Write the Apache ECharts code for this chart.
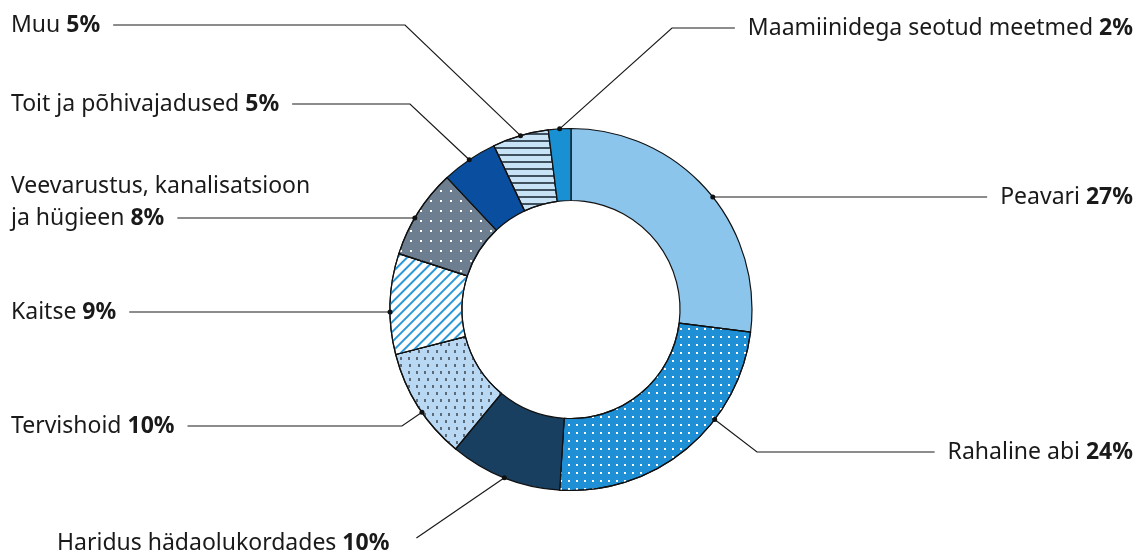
<!DOCTYPE html>
<html>
<head>
<meta charset="utf-8">
<script src="https://cdn.jsdelivr.net/npm/echarts@6/dist/echarts.min.js"></script>
<style>
html,body{margin:0;padding:0;background:#ffffff;}
#chart{width:1139px;height:554px;}
</style>
</head>
<body>
<div id="chart"></div>
<script>
// ---- data ----
const categories = [
  'Peavari',
  'Rahaline abi',
  'Haridus hädaolukordades',
  'Tervishoid',
  'Kaitse',
  'Veevarustus, kanalisatsioon\nja hügieen',
  'Toit ja põhivajadused',
  'Muu',
  'Maamiinidega seotud meetmed'
];
const values = [27, 24, 10, 10, 9, 8, 5, 5, 2];

// ---- styles ----
const sliceStyles = [
  { color: '#8cc5ec' },
  { color: '#1f90d6', decal: { symbol: 'rect', color: '#ffffff', dashArrayX: [2, 5.3], dashArrayY: [2, 5.3], symbolSize: 1 } },
  { color: '#183e60' },
  { color: '#b8d8f3', decal: { symbol: 'rect', color: '#5d6a78', symbolKeepAspect: false, symbolSize: 1, dashArrayX: [[1.2, 5.8], [0, 3.5, 1.2, 2.3]], dashArrayY: [3, 4] } },
  { color: '#ffffff', decal: { symbol: 'rect', color: '#2b99d8', dashArrayX: [1, 0], dashArrayY: [1.6, 4.4], rotation: -Math.PI / 4 } },
  { color: '#6c7e8f', decal: { symbol: 'rect', color: '#ffffff', dashArrayX: [1.8, 7.6], dashArrayY: [1.8, 7.6], symbolSize: 1 } },
  { color: '#0a4f9f' },
  { color: '#c8e3f5', decal: { symbol: 'rect', color: '#3f515e', dashArrayX: [1, 0], dashArrayY: [1.7, 5] } },
  { color: '#1990d2' }
];

// ---- layout ----
const CENTER = [571, 309.5];
const R_IN = 109, R_OUT = 181;
const FONT = 'Noto Sans';
const FONT_SIZE = 23;
const LINE_H = 32;
const GAP = 13;
const labelPos = [
  { side: 'right', y: 197, anchor: 'level' },
  { side: 'right', y: 452, bendX: 757, anchor: 'toward' },
  { side: 'left', x: 57, y: 543, lineY: 538, anchor: 'mid', direct: true, gap: 27 },
  { side: 'left', y: 426, bendX: 402, anchor: 'toward' },
  { side: 'left', y: 312, anchor: 'level' },
  { side: 'left', y: 202, lineY: 218, anchor: 'level' },
  { side: 'left', y: 104, bendX: 410, anchor: 'mid' },
  { side: 'left', y: 25, bendX: 405, anchor: 'mid' },
  { side: 'right', y: 28, bendX: 672, anchor: 'mid' }
];

const measureCtx = document.createElement('canvas').getContext('2d');
function lastLineWidth(i) {
  const lines = categories[i].split('\n');
  measureCtx.font = 'normal ' + FONT_SIZE + 'px "' + FONT + '"';
  const w1 = measureCtx.measureText(lines[lines.length - 1] + ' ').width;
  measureCtx.font = 'bold ' + FONT_SIZE + 'px "' + FONT + '"';
  const w2 = measureCtx.measureText(values[i] + '%').width;
  return w1 + w2;
}

function lineYOf(cfg) { return cfg.lineY != null ? cfg.lineY : cfg.y; }
function anchorOf(i, mid) {
  const cfg = labelPos[i];
  if (cfg.anchor === 'level') {
    const ly = lineYOf(cfg);
    const dy = ly - CENTER[1];
    const dx = Math.sqrt(Math.max(0, R_OUT * R_OUT - dy * dy));
    return [CENTER[0] + (cfg.side === 'right' ? dx : -dx), ly];
  }
  if (cfg.anchor === 'toward') {
    const bx = cfg.bendX - CENTER[0], by = lineYOf(cfg) - CENTER[1];
    const L = Math.hypot(bx, by);
    return [CENTER[0] + bx / L * R_OUT, CENTER[1] + by / L * R_OUT];
  }
  return [mid[0], mid[1]];
}

const pieData = categories.map((name, i) => ({
  name: name,
  value: values[i],
  itemStyle: Object.assign({ borderColor: '#111111', borderWidth: 1.2 }, sliceStyles[i])
}));
const dotData = categories.map((name, i) => ({ name: name, value: values[i] }));

const chart = echarts.init(document.getElementById('chart'), null, { renderer: 'canvas' });
chart.setOption({
  backgroundColor: '#ffffff',
  animation: false,
  series: [
    {
      type: 'pie',
      center: CENTER,
      radius: [R_IN, R_OUT],
      startAngle: 90,
      clockwise: true,
      avoidLabelOverlap: false,
      silent: true,
      emphasis: { disabled: true },
      data: pieData,
      label: {
        show: true,
        position: 'outside',
        fontFamily: FONT,
        fontSize: FONT_SIZE,
        formatter: p => '{n|' + p.name + ' }{b|' + p.value + '%}',
        rich: {
          n: { fontFamily: FONT, fontSize: FONT_SIZE, color: '#1a1a1a', lineHeight: LINE_H },
          b: { fontFamily: FONT, fontSize: FONT_SIZE, color: '#1a1a1a', fontWeight: 'bold', lineHeight: LINE_H }
        }
      },
      labelLine: { show: true, length: 10, length2: 10, lineStyle: { color: '#1a1a1a', width: 1.2 } },
      labelLayout: function (p) {
        const i = p.dataIndex;
        const cfg = labelPos[i];
        const right = cfg.side === 'right';
        const multi = categories[i].indexOf('\n') >= 0;
        const w = multi ? lastLineWidth(i) : p.labelRect.width;
        const x = cfg.x != null ? cfg.x : (right ? 1133 : 11);
        const ly = lineYOf(cfg);
        const gap = cfg.gap != null ? cfg.gap : GAP;
        const endX = right ? x - w - gap : x + w + gap;
        const a = anchorOf(i, p.labelLinePoints[0]);
        let pts;
        if (cfg.bendX != null) pts = [a, [cfg.bendX, ly], [endX, ly]];
        else if (cfg.direct) pts = [a, [endX, ly], [endX, ly]];
        else pts = [a, [a[0], ly], [endX, ly]];
        return { x: x, y: cfg.y, align: right ? 'right' : 'left', verticalAlign: 'middle', labelLinePoints: pts };
      }
    },
    {
      type: 'pie',
      center: CENTER,
      radius: [R_IN, R_OUT],
      startAngle: 90,
      clockwise: true,
      avoidLabelOverlap: false,
      silent: true,
      emphasis: { disabled: true },
      z: 5,
      data: dotData,
      itemStyle: { color: 'rgba(0,0,0,0)', borderWidth: 0 },
      label: {
        show: true,
        position: 'outside',
        formatter: '{d| }',
        rich: { d: { width: 5, height: 5, borderRadius: 2.5, backgroundColor: '#111111', fontSize: 1, lineHeight: 5 } }
      },
      labelLine: { show: true, length: 10, length2: 10, lineStyle: { opacity: 0, width: 0 } },
      labelLayout: function (p) {
        const a = anchorOf(p.dataIndex, p.labelLinePoints[0]);
        return { x: a[0], y: a[1], align: 'center', verticalAlign: 'middle' };
      }
    }
  ]
});
</script>
</body>
</html>
